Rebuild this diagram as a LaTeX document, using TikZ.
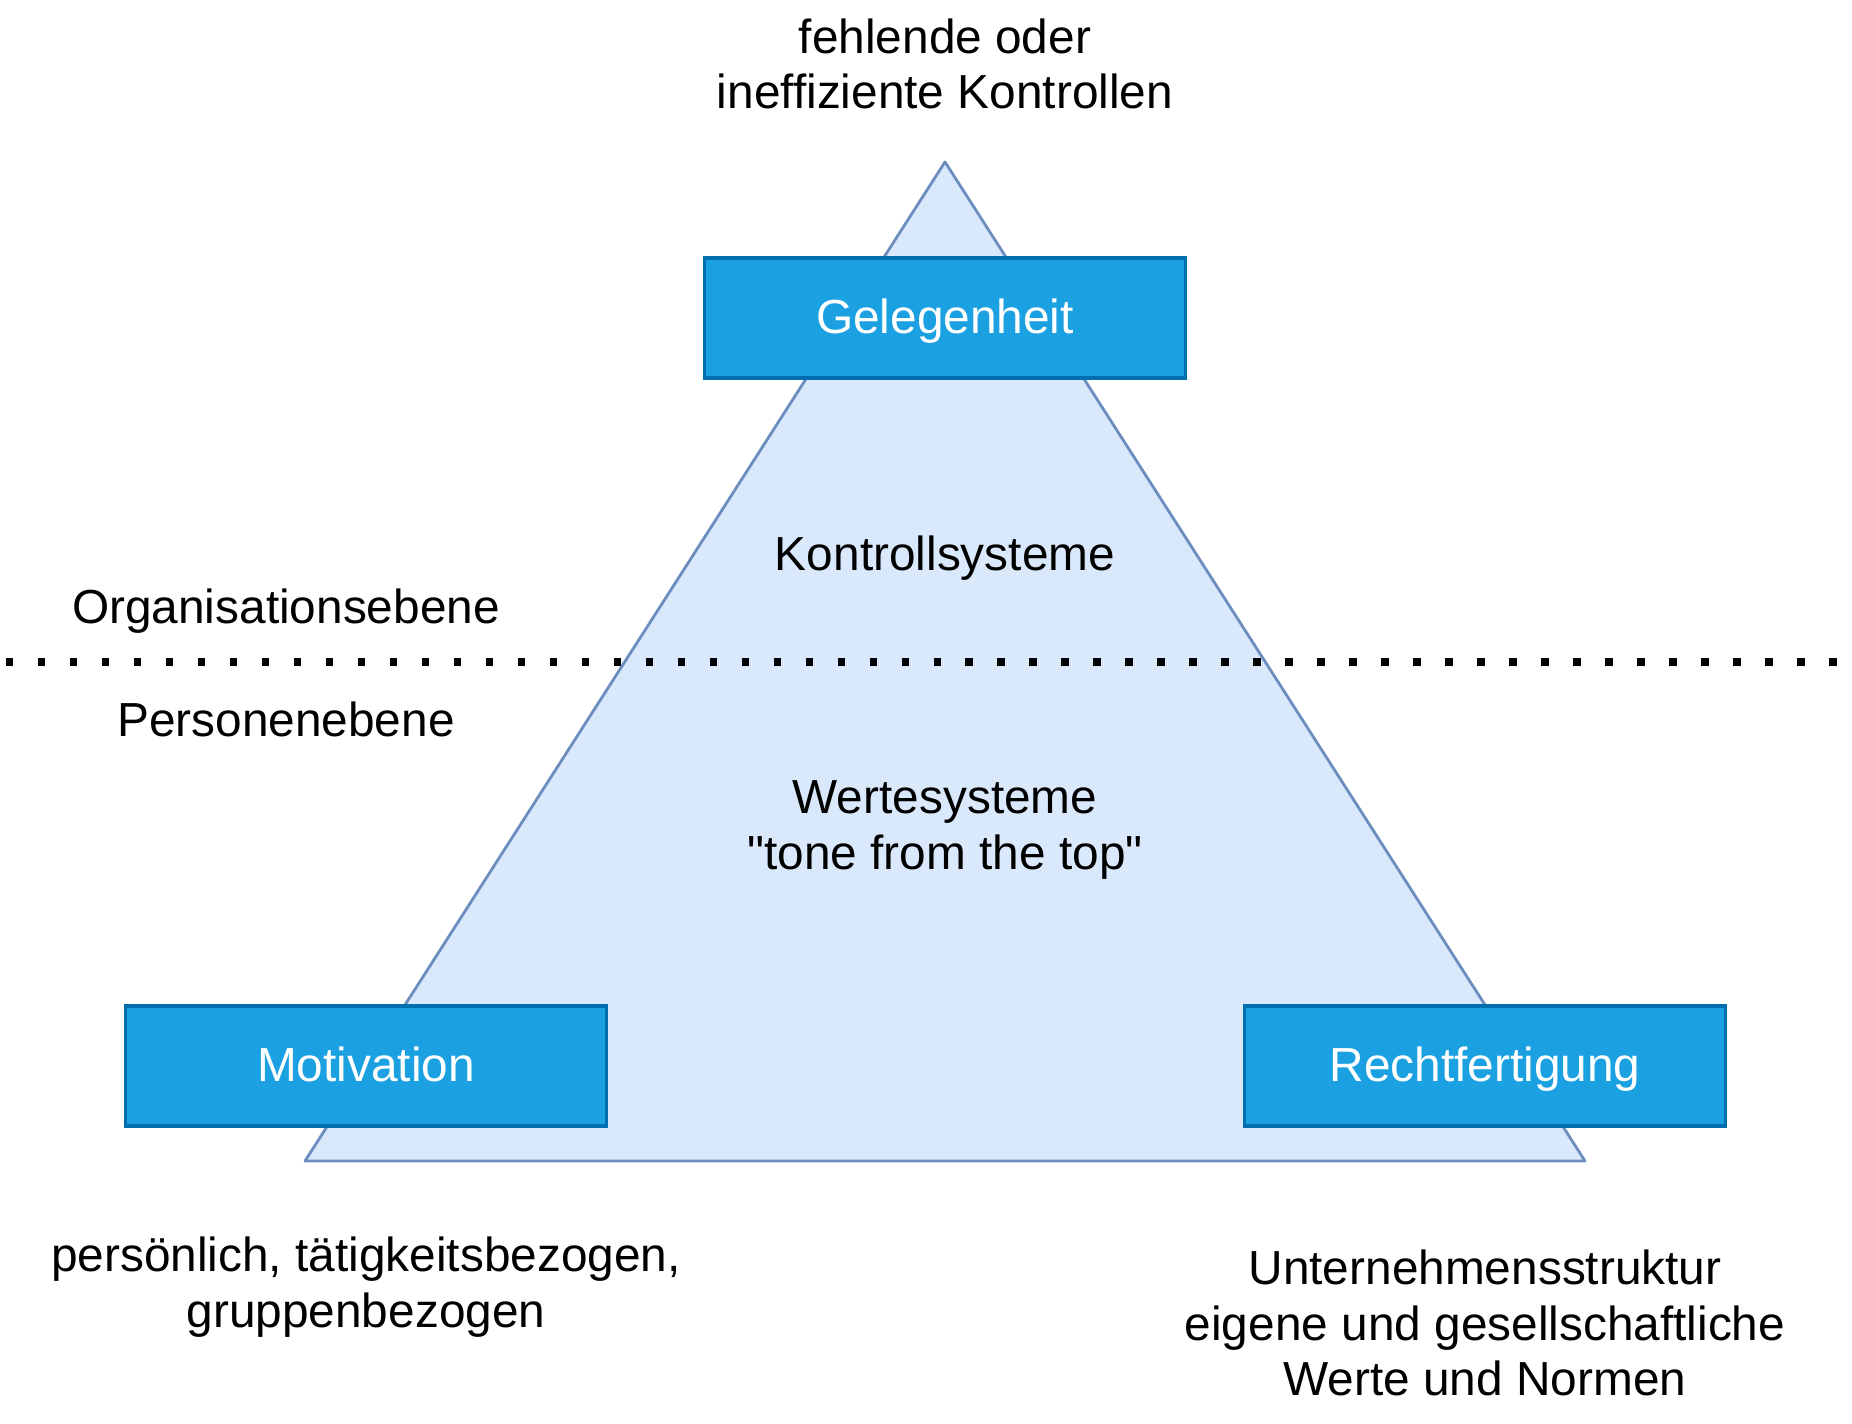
\documentclass[tikz,border=0pt]{standalone}
\usepackage{fontspec}
\setmainfont{Liberation Sans}[Ligatures=TeXOff]
\usepackage{tikz}
\usetikzlibrary{positioning}
\usepackage{xcolor}
\definecolor{dreieckfill}{HTML}{DAE8FC}
\definecolor{dreieckrand}{HTML}{6C8EBF}
\definecolor{boxfill}{HTML}{1BA1E2}
\definecolor{boxrand}{HTML}{006EAF}
\tikzset{
  faktor/.style={draw=boxrand, fill=boxfill, line width=1pt, minimum width=4.81cm,
    minimum height=1.2cm, inner sep=0pt, text=white, text height=1.07em, text depth=0.2em,
    font=\fontsize{13.6}{15.9}\selectfont},
  txt/.style={align=center, inner sep=0pt, font=\fontsize{13.6}{15.9}\selectfont},
}

\begin{document}
\begin{tikzpicture}
  \useasboundingbox (0,0) rectangle (18.52,14.24);

  % 三角形
  \coordinate (spitze) at (9.45,12.62);
  \coordinate (linksunten) at (3.05,2.63);
  \coordinate (rechtsunten) at (15.85,2.63);
  \filldraw[fill=dreieckfill, draw=dreieckrand, line width=0.8pt, line join=round]
    (spitze) -- (linksunten) -- (rechtsunten) -- cycle;

  % 点線
  \coordinate (links) at (0.06,7.62);
  \coordinate (rechts) at (18.52,7.62);
  \draw[line width=2.13pt, dash pattern=on 2.13pt off 6.97pt] (links) -- (rechts);

  % 三要素
  \node[faktor] (gelegenheit) at (9.45,11.06) {Gelegenheit};
  \node[faktor] (motivation) at (3.66,3.58) {Motivation};
  \node[faktor] (rechtfertigung) at (14.85,3.58) {Rechtfertigung};

  % テキスト
  \node[txt] (kontrollen) at (9.45,13.60) {fehlende oder\\ineffiziente Kontrollen};
  \node[txt] (orga) at (2.86,8.125) {Organisationsebene};
  \node[txt] (personen) at (2.86,7.05) {Personenebene};
  \node[txt] (kontrollsys) at (9.45,8.655) {Kontrollsysteme};
  \node[txt] (werte) at (9.45,5.94) {Wertesysteme\\"tone from the top"};
  \node[txt] (persoenlich) at (3.66,1.365) {persönlich, tätigkeitsbezogen,\\gruppenbezogen};
  \node[txt] (struktur) at (14.85,1.01) {Unternehmensstruktur\\eigene und gesellschaftliche\\Werte und Normen};
\end{tikzpicture}
\end{document}
